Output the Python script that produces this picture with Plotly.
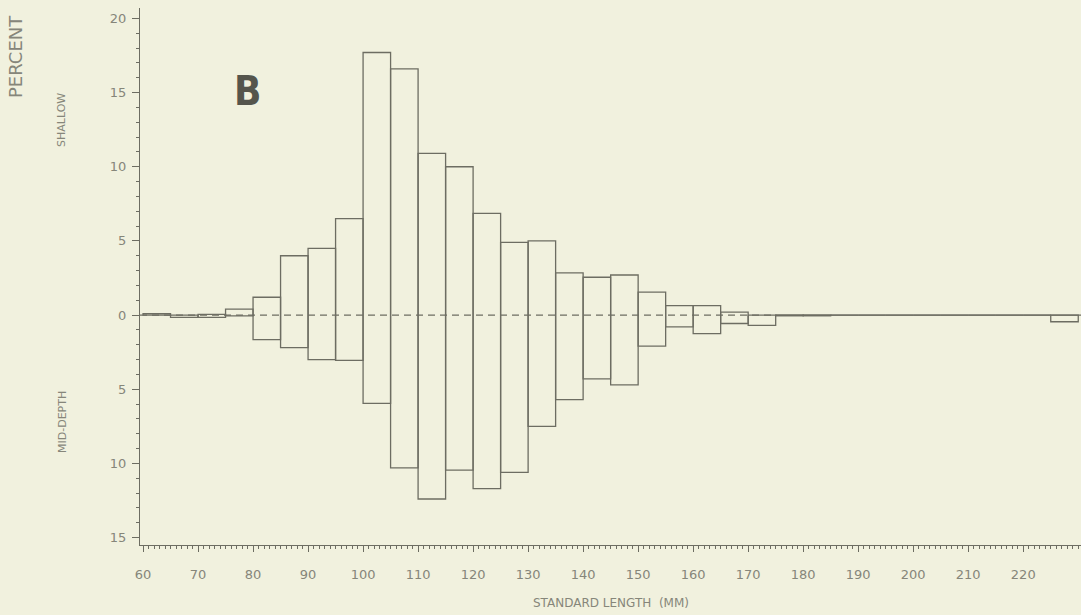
import plotly.graph_objects as go

# ---- data ----
bin_start = list(range(60, 230, 5))  # 5-mm length classes, 60 ... 225
shallow = [0.1, 0.0, 0.05, 0.4, 1.2, 4.0, 4.5, 6.5, 17.7, 16.6,
           10.9, 10.0, 6.85, 4.9, 5.0, 2.85, 2.55, 2.7, 1.55, 0.63,
           0.63, 0.2, 0.0, 0.0, 0.0, 0.0, 0.0, 0.0, 0.0, 0.0,
           0.0, 0.0, 0.0, 0.0]
mid_depth = [0.0, 0.15, 0.15, 0.05, 1.65, 2.2, 3.0, 3.05, 5.95, 10.3,
             12.4, 10.45, 11.7, 10.6, 7.5, 5.7, 4.3, 4.7, 2.1, 0.8,
             1.25, 0.57, 0.7, 0.05, 0.05, 0.0, 0.0, 0.0, 0.0, 0.0,
             0.0, 0.0, 0.0, 0.45]
x_tick_vals = list(range(60, 230, 10))
x_tick_text = [str(v) for v in x_tick_vals]
y_tick_vals = [-15, -10, -5, 0, 5, 10, 15, 20]
y_tick_text = ["15", "10", "5", "0", "5", "10", "15", "20"]

# ---- style ----
BG = "#f1f1de"
LINE = "#6d6d62"
TXT = "#86867a"
FONT = "DejaVu Sans"

W, H = 1081, 615
L, R, T, B = 140, 0, 8, 70
X_RANGE = [59.45, 230.5]
Y_RANGE = [-15.5, 20.7]
DASH_END = 175

fig = go.Figure()
# each class drawn as one open box spanning from -mid-depth to +shallow
fig.add_trace(go.Bar(
    x=bin_start,
    y=[s + m for s, m in zip(shallow, mid_depth)],
    base=[-m for m in mid_depth],
    offset=0, width=5,
    marker=dict(color="rgba(0,0,0,0)", line=dict(color=LINE, width=1.3)),
    showlegend=False, hoverinfo="skip"))

# zero line: dashed through the boxes, solid where classes are empty
fig.add_shape(type="line", xref="x", yref="y", x0=X_RANGE[0], x1=DASH_END, y0=0, y1=0,
              line=dict(color=LINE, width=1.2, dash="7px,5px"), layer="below")
fig.add_shape(type="line", xref="x", yref="y", x0=DASH_END, x1=X_RANGE[1], y0=0, y1=0,
              line=dict(color=LINE, width=1.3), layer="below")

pw = W - L - R
ph = H - T - B


def px_x(px):
    return (px - L) / pw


def px_y(py):
    return (H - B - py) / ph


annots = [
    dict(text="PERCENT", x=px_x(16), y=px_y(57), textangle=-90,
         font=dict(size=18, color=TXT, family=FONT)),
    dict(text="SHALLOW", x=px_x(61), y=px_y(120), textangle=-90,
         font=dict(size=11, color=TXT, family=FONT)),
    dict(text="MID-DEPTH", x=px_x(62), y=px_y(422), textangle=-90,
         font=dict(size=11, color=TXT, family=FONT)),
    dict(text="STANDARD LENGTH  (MM)", x=px_x(611), y=px_y(603),
         font=dict(size=12, color=TXT, family=FONT)),
]
for a in annots:
    a.update(xref="paper", yref="paper", showarrow=False,
             xanchor="center", yanchor="middle")
    fig.add_annotation(**a)

fig.add_annotation(text="<b>B</b>", xref="x", yref="y", x=78.9, y=15.1,
                   showarrow=False, xanchor="center", yanchor="middle",
                   font=dict(size=40, color="#55554c",
                             family="DejaVu Sans Condensed, Liberation Sans Narrow, DejaVu Sans"))

fig.update_layout(
    width=W, height=H, barmode="overlay",
    margin=dict(l=L, r=R, t=T, b=B, pad=0, autoexpand=False),
    paper_bgcolor=BG, plot_bgcolor=BG,
    xaxis=dict(range=X_RANGE, tickvals=x_tick_vals, ticktext=x_tick_text, automargin=False,
               showgrid=False, zeroline=False, showline=True, linecolor=LINE, linewidth=1.2,
               ticks="outside", ticklen=6, tickcolor=LINE, tickwidth=1,
               minor=dict(dtick=1, tick0=60, ticks="outside", ticklen=3, tickcolor=LINE, tickwidth=1),
               tickfont=dict(size=13, color=TXT, family=FONT), ticklabelstandoff=11),
    yaxis=dict(range=Y_RANGE, tickvals=y_tick_vals, ticktext=y_tick_text, automargin=False,
               showgrid=False, zeroline=False, showline=True, linecolor=LINE, linewidth=1.2,
               ticks="outside", ticklen=7, tickcolor=LINE, tickwidth=1,
               minor=dict(dtick=1, tick0=0, ticks="outside", ticklen=3, tickcolor=LINE, tickwidth=1),
               tickfont=dict(size=13, color=TXT, family=FONT), ticklabelstandoff=3),
)

fig.write_html(
    "out.html",
    config={"responsive": False, "displayModeBar": False},
    post_script="document.body.style.margin='0px';document.body.style.overflow='hidden';"
                "document.body.style.background='" + BG + "';",
)
